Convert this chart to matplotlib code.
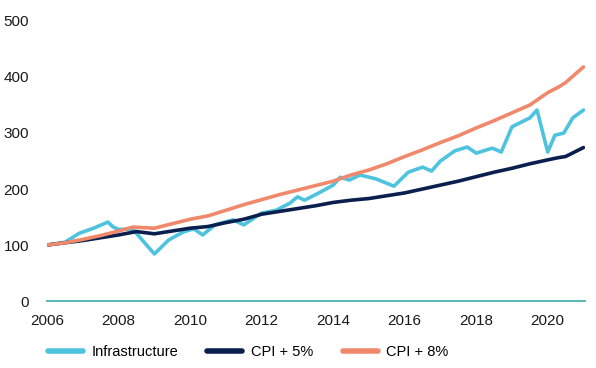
import numpy as np
import matplotlib.pyplot as plt

plt.rcParams['font.family'] = ['Liberation Sans', 'DejaVu Sans']

# Infrastructure index (decimal year, value)
infra_x = [2006.0, 2006.5, 2006.9, 2007.3, 2007.7, 2007.85, 2008.0, 2008.4, 2009.0, 2009.4,
           2009.8, 2010.1, 2010.35, 2010.7, 2011.2, 2011.5, 2012.0, 2012.4, 2012.8, 2013.0,
           2013.2, 2013.6, 2014.0, 2014.2, 2014.45, 2014.75, 2015.2, 2015.7, 2016.1, 2016.5,
           2016.75, 2017.0, 2017.4, 2017.75, 2018.0, 2018.45, 2018.7, 2019.0, 2019.5, 2019.7,
           2020.0, 2020.2, 2020.45, 2020.7, 2021.0]
infra_y = [100, 105, 121, 130, 141, 132, 128, 128, 84, 109,
           123, 129, 118, 136, 145, 136, 157, 162, 175, 186,
           180, 193, 207, 221, 216, 225, 218, 205, 230, 239,
           232, 250, 268, 275, 264, 273, 266, 311, 327, 341,
           266, 296, 300, 327, 341]

cpi5_x = [2006.0, 2006.5, 2007.0, 2007.5, 2008.0, 2008.5, 2009.0, 2009.5, 2010.0, 2010.5,
          2011.0, 2011.5, 2012.0, 2012.5, 2013.0, 2013.5, 2014.0, 2014.5, 2015.0, 2015.5,
          2016.0, 2016.5, 2017.0, 2017.5, 2018.0, 2018.5, 2019.0, 2019.5, 2020.0, 2020.3,
          2020.5, 2021.0]
cpi5_y = [100, 104, 108, 113, 118, 124, 120, 125, 130, 133,
          140, 146, 155, 160, 165, 170, 176, 180, 183, 188,
          193, 200, 207, 214, 222, 230, 237, 245, 252, 256,
          258, 274]

cpi8_x = [2006.0, 2006.5, 2007.0, 2007.5, 2008.0, 2008.4, 2009.0, 2009.5, 2010.0, 2010.5,
          2011.0, 2011.5, 2012.0, 2012.5, 2013.0, 2013.5, 2014.0, 2014.5, 2015.0, 2015.5,
          2016.0, 2016.5, 2017.0, 2017.5, 2018.0, 2018.5, 2019.0, 2019.5, 2020.0, 2020.3,
          2020.5, 2021.0]
cpi8_y = [100, 104, 110, 117, 125, 132, 130, 138, 146, 152,
          162, 172, 181, 190, 198, 206, 214, 225, 234, 245,
          258, 270, 283, 295, 309, 322, 336, 350, 372, 382,
          390, 418]

fig = plt.figure(figsize=(5.96, 3.68), dpi=100)
ax = fig.add_axes([0.079, 0.182, 0.903, 0.761])

ax.plot(infra_x, infra_y, color='#4ec3e0', lw=2.6, label='Infrastructure', solid_capstyle='round')
ax.plot(cpi5_x, cpi5_y, color='#0b1f4f', lw=2.6, label='CPI + 5%', solid_capstyle='round')
ax.plot(cpi8_x, cpi8_y, color='#f0896c', lw=2.6, label='CPI + 8%', solid_capstyle='round')

ax.set_xlim(2006, 2021.05)
ax.set_ylim(0, 500)
ax.set_xticks(range(2006, 2021, 2))
ax.set_yticks(range(0, 501, 100))
ax.tick_params(length=0, labelsize=11, colors='#1a1a1a')
ax.tick_params(axis='y', pad=13)
ax.tick_params(axis='x', pad=9)
for s in ['top', 'right', 'left']:
    ax.spines[s].set_visible(False)
ax.spines['bottom'].set_color('#3aaaa6')
ax.spines['bottom'].set_linewidth(1.2)

leg = fig.legend(loc='lower left', bbox_to_anchor=(0.058, -0.012), ncol=3, frameon=False,
                 fontsize=10.5, handlelength=2.4, columnspacing=2.0, handletextpad=0.6)
for line in leg.get_lines():
    line.set_linewidth(4)

fig.savefig('out.png', dpi=100)
